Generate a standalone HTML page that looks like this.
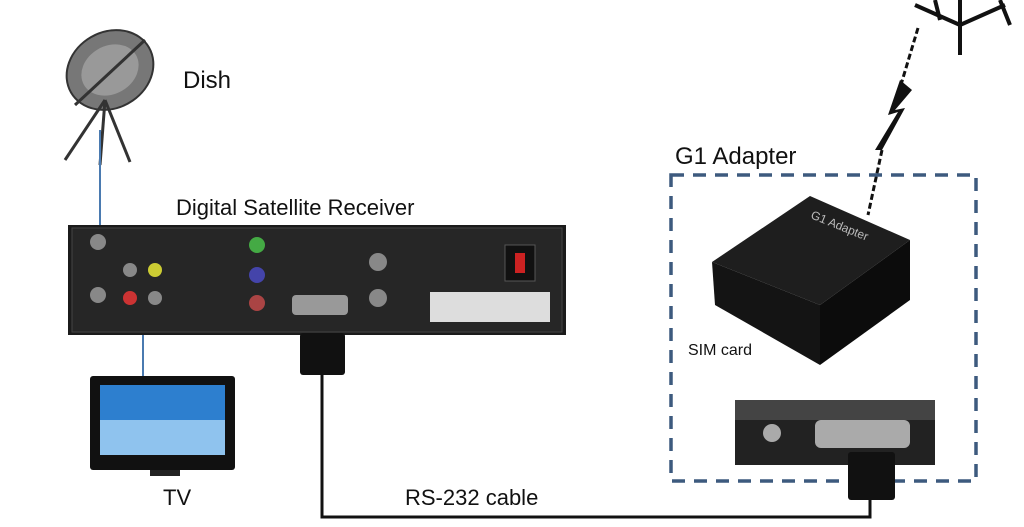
<!DOCTYPE html>
<html><head><meta charset="utf-8"><style>
html,body{margin:0;padding:0;background:#fff;}
svg{display:block;}
text{font-family:"Liberation Sans",sans-serif;fill:#111;}
</style></head><body>
<svg width="1024" height="527" viewBox="0 0 1024 527" xmlns="http://www.w3.org/2000/svg">
<!-- tower -->
<g stroke="#111" stroke-width="4" fill="none">
<line x1="960" y1="0" x2="960" y2="55"/>
<line x1="915" y1="5" x2="960" y2="25"/><line x1="1005" y1="5" x2="960" y2="25"/>
<line x1="935" y1="0" x2="940" y2="20"/><line x1="1000" y1="0" x2="1010" y2="25"/>
</g>
<!-- bolt -->
<line x1="918" y1="28" x2="900" y2="88" stroke="#111" stroke-width="3" stroke-dasharray="6,3"/>
<line x1="882" y1="150" x2="868" y2="215" stroke="#111" stroke-width="3" stroke-dasharray="6,3"/>
<polygon points="900,80 888,115 898,112 875,150 882,150 905,108 895,110 912,90" fill="#111"/>
<!-- dish -->
<ellipse cx="110" cy="70" rx="45" ry="38" transform="rotate(-30 110 70)" fill="#777" stroke="#333" stroke-width="2"/>
<ellipse cx="110" cy="70" rx="30" ry="24" transform="rotate(-30 110 70)" fill="#999"/>
<g stroke="#333" stroke-width="3"><line x1="105" y1="100" x2="65" y2="160"/><line x1="105" y1="100" x2="130" y2="162"/><line x1="105" y1="100" x2="100" y2="165"/><line x1="75" y1="105" x2="145" y2="40"/></g>
<text x="183" y="88" font-size="24">Dish</text>
<line x1="100" y1="130" x2="100" y2="226" stroke="#4a7ab0" stroke-width="2"/>
<!-- receiver -->
<text x="176" y="215" font-size="22">Digital Satellite Receiver</text>
<rect x="68" y="225" width="498" height="110" fill="#1b1b1b"/>
<rect x="72" y="228" width="490" height="104" fill="#262626" stroke="#444"/>
<g fill="#888"><circle cx="98" cy="242" r="8"/><circle cx="98" cy="295" r="8"/><circle cx="130" cy="270" r="7"/><circle cx="155" cy="270" r="7" fill="#cc3"/><circle cx="130" cy="298" r="7" fill="#c33"/><circle cx="155" cy="298" r="7"/><circle cx="257" cy="245" r="8" fill="#4a4"/><circle cx="257" cy="275" r="8" fill="#44a"/><circle cx="257" cy="303" r="8" fill="#a44"/><circle cx="378" cy="262" r="9"/><circle cx="378" cy="298" r="9"/></g>
<rect x="292" y="295" width="56" height="20" rx="4" fill="#999"/>
<rect x="430" y="292" width="120" height="30" fill="#ddd"/>
<rect x="505" y="245" width="30" height="36" fill="#111" stroke="#555"/>
<rect x="515" y="253" width="10" height="20" fill="#c22"/>
<line x1="143" y1="335" x2="143" y2="378" stroke="#4a7ab0" stroke-width="2"/>
<!-- TV -->
<rect x="90" y="376" width="145" height="94" rx="3" fill="#111"/>
<rect x="100" y="385" width="125" height="70" fill="#2d7fcf"/>
<rect x="100" y="420" width="125" height="35" fill="#8fc3ee"/>
<rect x="150" y="470" width="30" height="6" fill="#222"/>
<text x="163" y="505" font-size="22">TV</text>
<!-- cable -->
<rect x="300" y="333" width="45" height="42" rx="3" fill="#111"/>
<polyline points="322,375 322,517 870,517 870,500" fill="none" stroke="#111" stroke-width="3"/>
<text x="405" y="505" font-size="22">RS-232 cable</text>
<!-- adapter box -->
<text x="675" y="164" font-size="24">G1 Adapter</text>
<rect x="671" y="175" width="305" height="306" fill="none" stroke="#3d5a7e" stroke-width="3.5" stroke-dasharray="13,9"/>
<polygon points="712,262 810,196 910,240 820,305" fill="#1e1e1e"/>
<polygon points="712,262 820,305 820,365 715,305" fill="#141414"/>
<polygon points="820,305 910,240 910,300 820,365" fill="#0c0c0c"/>
<text x="810" y="218" font-size="12" style="fill:#bbb" transform="rotate(22 810 218)">G1 Adapter</text>
<text x="688" y="355" font-size="16">SIM card</text>
<rect x="735" y="400" width="200" height="65" fill="#222"/>
<rect x="735" y="400" width="200" height="20" fill="#444"/>
<circle cx="772" cy="433" r="9" fill="#aaa"/>
<rect x="815" y="420" width="95" height="28" rx="6" fill="#aaa"/>
<rect x="848" y="452" width="47" height="48" rx="3" fill="#111"/>
</svg>
</body></html>
